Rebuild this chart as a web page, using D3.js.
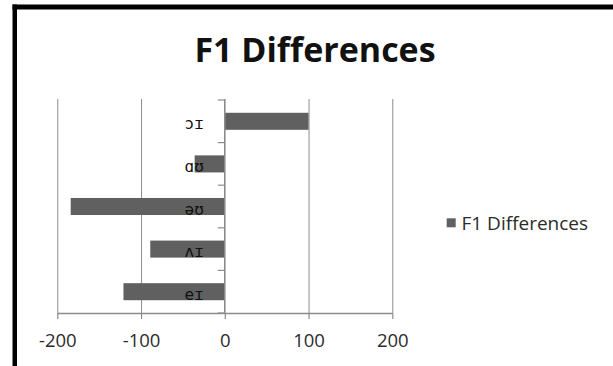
<!DOCTYPE html>
<html>
<head>
<meta charset="utf-8">
<script src="https://cdn.jsdelivr.net/npm/d3@7"></script>
<style>
  html, body { margin: 0; padding: 0; background: #fff; }
  svg { display: block; }
</style>
</head>
<body>
<script>
// Diphthong categories, listed top to bottom as drawn
const categories = ["ɔɪ", "ɑʊ", "əʊ", "ʌɪ", "eɪ"];
// F1 difference per diphthong (Hz)
const f1Differences = [100, -36, -184, -89, -121];
const xTicks = [-200, -100, 0, 100, 200];
const seriesName = "F1 Differences";
const chartTitle = "F1 Differences";

const W = 613, H = 366;
const svg = d3.select("body").append("svg").attr("width", W).attr("height", H);

svg.append("rect").attr("width", W).attr("height", H).attr("fill", "#fff");

// frame: heavy rules on the top and left edge
svg.append("rect").attr("x", 12.5).attr("y", 4.5).attr("width", W).attr("height", 5).attr("fill", "#000");
svg.append("rect").attr("x", 12.5).attr("y", 4.5).attr("width", 4.5).attr("height", H).attr("fill", "#000");

const x = d3.scaleLinear().domain([-200, 200]).range([57.3, 392.3]);
const y = d3.scaleBand().domain(categories).range([100, 313]).paddingInner(0.6).paddingOuter(0.3);

const gridColor = "#8c8c8c";
const textFont = "'Open Sans', sans-serif";

// vertical gridlines
svg.append("g").selectAll("line").data(xTicks.filter(d => d !== 0)).join("line")
  .attr("x1", d => x(d) + 0.5).attr("x2", d => x(d) + 0.5)
  .attr("y1", 99).attr("y2", 313)
  .attr("stroke", gridColor).attr("stroke-width", 1);

// bars
svg.append("g").selectAll("rect").data(categories).join("rect")
  .attr("x", (c, i) => x(Math.min(0, f1Differences[i])))
  .attr("y", c => y(c))
  .attr("width", (c, i) => Math.abs(x(f1Differences[i]) - x(0)))
  .attr("height", y.bandwidth())
  .attr("fill", "#606060");

// bottom value axis
const xAxis = d3.axisBottom(x).tickValues(xTicks).tickSize(6).tickPadding(15).tickFormat(d => String(d));
const gx = svg.append("g").attr("transform", "translate(0,313)").call(xAxis);
gx.select(".domain").attr("stroke", gridColor).attr("stroke-width", 1.3)
  .attr("d", `M${x(-200)},0.5H${x(200)}`);
gx.selectAll(".tick line").attr("stroke", gridColor).attr("stroke-width", 1.2);
gx.selectAll(".tick text")
  .attr("fill", "#2b2b2b")
  .style("font-family", textFont)
  .style("font-size", "18.5px");

// category axis at zero, labels placed left of it
const yAxis = d3.axisLeft(y).tickSize(0).tickPadding(21);
const gy = svg.append("g").attr("transform", `translate(${x(0)},0)`).call(yAxis);
gy.select(".domain").attr("stroke", gridColor).attr("stroke-width", 1.6)
  .attr("d", "M0,99V313");
gy.selectAll(".tick text")
  .attr("fill", "#111")
  .attr("dy", "0.5em")
  .style("font-family", "'DejaVu Sans Mono', monospace")
  .style("font-size", "16px");

// category boundary ticks
const bounds = categories.map(c => y(c) - y.step() * y.paddingInner() / 2);
bounds.push(313);
svg.append("g").selectAll("line").data(bounds).join("line")
  .attr("x1", x(0) - 7).attr("x2", x(0))
  .attr("y1", d => d).attr("y2", d => d)
  .attr("stroke", gridColor).attr("stroke-width", 1.2);

// title
svg.append("text")
  .attr("x", 315).attr("y", 62.3)
  .attr("text-anchor", "middle")
  .attr("fill", "#111")
  .style("font-family", textFont)
  .style("font-weight", "700")
  .style("font-size", "34px")
  .text(chartTitle);

// legend
const lg = svg.append("g");
lg.append("rect").attr("x", 446.7).attr("y", 218.3).attr("width", 9).attr("height", 9).attr("fill", "#606060");
lg.append("text").attr("x", 461.5).attr("y", 229.5)
  .attr("fill", "#2b2b2b")
  .style("font-family", textFont)
  .style("font-size", "19px")
  .text(seriesName);
</script>
</body>
</html>
